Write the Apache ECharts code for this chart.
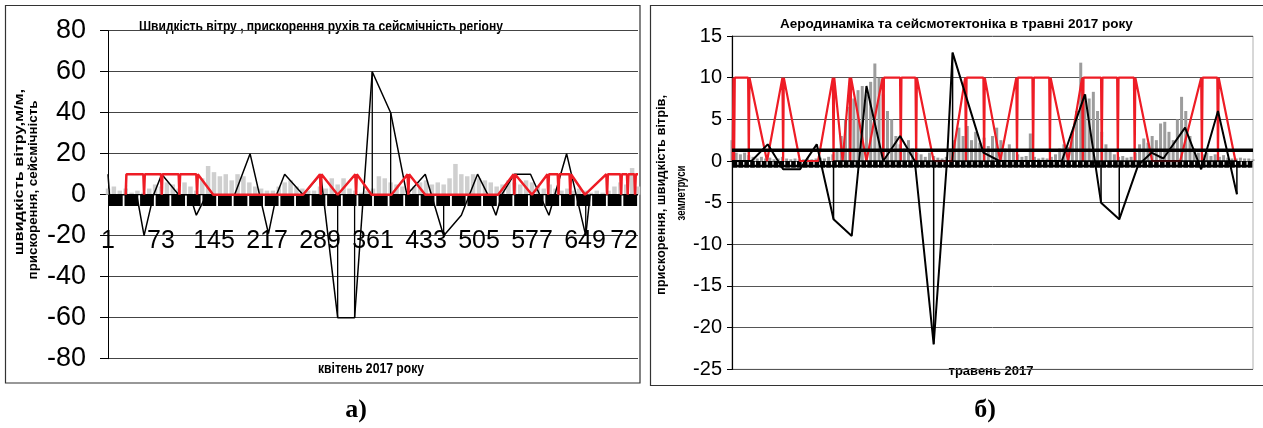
<!DOCTYPE html>
<html><head><meta charset="utf-8">
<script src="https://cdn.jsdelivr.net/npm/echarts@6/dist/echarts.min.js"></script>
<style>html,body{margin:0;padding:0;background:#fff}#c{width:1263px;height:428px}</style>
</head><body><div id="c"></div>
<script>
// ===== a) April 2017 (x = hour of month) =====
const aprTickLabels = ['1','73','145','217','289','361','433','505','577','649','72'];
// wind speed, one value every 8 hours
const aprWind = [3,4,2,3,1,2,1,3,5,4,6,5,3,6,4,2,8,14,11,9,10,7,10,9,6,4,3,2,2,4,
  6,7,4,3,2,2,4,3,8,5,8,3,2,1,2,3,9,8,6,5,4,3,4,6,7,5,6,5,8,15,
  10,9,10,8,7,6,4,5,7,6,5,7,6,4,3,5,3,2,3,2,3,2,1,2,1,2,4,6,5,13,4];
// seismicity (0 / 10)
const aprSeismic = [[24,0],[25,10],[48,10],[49,0],[50,10],[72,10],[73,0],[74,10],[96,10],[97,0],[98,10],
  [120,10],[121,0],[122,10],[123,10],[143,0],[265,0],[288,10],[289,0],[290,10],[312,0],[336,10],[337,0],[338,10],
  [358,0],[385,0],[407,10],[408,0],[409,10],[431,0],[530,0],[551,10],[552,0],[553,10],[576,0],[597,10],[598,0],[599,10],
  [611,10],[612,0],[613,10],[627,10],[628,0],[629,10],[630,10],[648,0],[677,10],[678,0],[679,10],[696,10],[697,0],[698,10],
  [705,10],[706,0],[707,10],[715,10],[716,0],[717,10],[720,10]];
// acceleration of movements
const aprAccel = [[0,10],[2,0],[39,0],[49,-20],[62,0],[73,10],[96,0],[111,0],[120,-10],[134,0],[172,0],[193,20],
  [218,-19],[229,0],[240,10],[265,0],[289,10],[312,-60],[335,-60],[359,60],[384,40],[406,0],[431,10],[456,-20],
  [480,-10],[502,10],[516,0],[527,-10],[535,0],[552,10],[574,10],[599,-10],[623,20],[649,-20],[655,0],[720,0]];
const aprAccelSpikes = [[25,5],[312,-60],[335,-60],[359,60],[384,40],[456,-20],[649,-20]];
const aprBand = [-5.5,-5.5,-5.5,-5.5,-5.5,-5.5,-5.5,-5.5,-5.5,-5.5,-5.5,-5.5,-5.5,-5.5,-5.5,-5.5,-5.5,
  -5.5,-5.5,-5.5,-5.5,-5.5,-5.5,-5.5,-5.5,-5.5,-5.5,-5.5,-5.5,-5.5,-5.5,-5.5,-5.5,-5.5];

// ===== б) May 2017 =====
// wind speed, one value every 6 hours
const mayWind = [2.5,1,0.8,1,0.7,0.5,0.3,0.5,0.3,0.4,0.2,0.3,0.5,0.3,0.2,0.3,0.2,0.2,0.3,0.2,
  0.3,0.4,0.3,0.5,0.8,1.5,3,5,6.5,7.5,8.5,9,8,9.5,11.7,10,8,6,5,3,
  2,1.5,2.5,1.5,1,0.8,0.5,1,0.6,0.4,0.3,0.5,1.5,2.5,4,3,4.2,2.5,3.5,2.2,
  2.8,1.8,3,4,2.5,1.5,2,1.2,0.8,0.5,0.6,3.3,0.5,0.3,0.4,0.3,0.5,0.8,1.5,2,
  1.7,3.5,6,11.8,8,7.5,8.3,6,3.5,2,1.2,0.8,0.5,0.6,0.4,0.5,1,2,2.7,2.2,
  3,2.5,4.5,4.7,3.5,2.5,5,7.7,6,3,1.5,1,0.8,1,0.6,0.8,0.5,0.7,0.4,0.3,
  0.3,0.4,0.3,0.3,0.2];
const maySeismic = [[1,0],[2,10],[3,0],[4,10],[23,10],[24,0],[25,10],[50,0],[72,10],[73,0],[74,10],[97,0],[123,0],
  [144,10],[145,0],[146,10],[158,0],[168,10],[169,0],[170,10],[192,0],[215,10],[216,0],[217,10],[240,10],[241,0],[242,10],
  [262,10],[263,0],[264,10],[288,0],[314,0],[333,10],[334,0],[335,10],[359,10],[360,0],[361,10],[383,0],
  [406,10],[407,0],[408,10],[429,10],[430,0],[431,10],[453,10],[454,0],[455,10],[480,0],[500,10],[501,0],[502,10],
  [527,10],[528,0],[529,10],[550,10],[551,0],[552,10],[574,10],[575,0],[576,10],[600,0],[640,0],
  [670,10],[671,0],[672,10],[693,10],[694,0],[695,10],[719,0]];
const mayAccel = [[0,0],[28,0],[51,2],[73,-1],[97,-1],[121,2],[145,-7],[171,-9],[192,9],[216,0],[240,3],[261,0],
  [288,-22],[307,0],[315,13],[359,1],[382,0],[471,0],[504,8],[527,-5],[553,-7],[580,-0.5],[599,1],[616,0.3],
  [647,4],[670,-1],[694,6],[721,-4]];
const mayAccelSpikes = [[145,-7],[288,-22],[315,13],[527,-5],[553,-7],[721,-4]];
const mayMean = [[0,1.3],[744,1.3]];
const mayBand = new Array(89).fill(-0.8);

function spikes(arr){const out=[];arr.forEach(p=>{out.push([p[0],0],[p[0],p[1]],[p[0],0]);});return out;}

const SANS = "'Liberation Sans',Arial,sans-serif";
const SERIF = "'Liberation Serif','DejaVu Serif',serif";
const RED = '#ee1c25';

const chart = echarts.init(document.getElementById('c'), null, {renderer:'canvas'});
chart.setOption({
  animation:false,
  backgroundColor:'#fff',
  grid:[
    {left:108, top:30.7, width:530, height:328},
    {left:732, top:36, width:521, height:333.3, show:true, borderColor:'#b0b0b0', borderWidth:1, backgroundColor:'transparent'}
  ],
  xAxis:[
    {type:'value', gridIndex:0, min:0, max:720, interval:72, position:'bottom', offset:-164,
      axisLine:{show:false, onZero:false}, axisTick:{show:false}, splitLine:{show:false},
      axisLabel:{fontSize:25, fontFamily:SANS, color:'#000', margin:34, alignMaxLabel:'right', hideOverlap:false,
        formatter:v=>aprTickLabels[Math.round(v/72)]}},
    {type:'category', gridIndex:0, data:aprBand.map((_,i)=>i), boundaryGap:true, show:false},
    {type:'value', gridIndex:1, min:0, max:744, show:false},
    {type:'category', gridIndex:1, data:mayBand.map((_,i)=>i), boundaryGap:true, show:false}
  ],
  yAxis:[
    {type:'value', gridIndex:0, min:-80, max:80, interval:20,
      axisLine:{show:true, lineStyle:{color:'#000', width:1}},
      axisTick:{show:true, length:8, lineStyle:{color:'#000'}},
      splitLine:{lineStyle:{color:'#444', width:1}},
      axisLabel:{fontSize:27, fontFamily:SANS, color:'#000', margin:22}},
    {type:'value', gridIndex:1, min:-25, max:15, interval:5,
      axisLine:{show:true, lineStyle:{color:'#000', width:1.2}},
      axisTick:{show:true, length:5, lineStyle:{color:'#000'}},
      splitLine:{lineStyle:{color:'#555', width:1}},
      axisLabel:{fontSize:20, fontFamily:SANS, color:'#000', margin:10}}
  ],
  series:[
    // ---- a) ----
    {type:'bar', xAxisIndex:0, yAxisIndex:0, barWidth:4.5, itemStyle:{color:'#cfcfcf'},
      data:aprWind.map((v,i)=>[i*8,v]), z:1},
    {type:'bar', xAxisIndex:1, yAxisIndex:0, barWidth:13.8, itemStyle:{color:'#000'}, data:aprBand, z:2},
    {type:'line', xAxisIndex:0, yAxisIndex:0, data:aprAccel, symbol:'none', lineStyle:{color:'#000', width:1.5}, z:3},
    {type:'line', xAxisIndex:0, yAxisIndex:0, data:spikes(aprAccelSpikes), symbol:'none', lineStyle:{color:'#000', width:1.3}, z:3},
    {type:'line', xAxisIndex:0, yAxisIndex:0, data:aprSeismic, symbol:'none', lineStyle:{color:RED, width:2.5}, z:4},
    // ---- б) ----
    {type:'bar', xAxisIndex:2, yAxisIndex:1, barWidth:3, itemStyle:{color:'#9c9c9c'},
      data:mayWind.map((v,i)=>[i*6,v]), z:1},
    {type:'bar', xAxisIndex:3, yAxisIndex:1, barWidth:4.6, itemStyle:{color:'#000'}, data:mayBand, z:2},
    {type:'line', xAxisIndex:2, yAxisIndex:1, data:[[1,-0.6],[740,-0.6]], symbol:'none', lineStyle:{color:'#000', width:2.5}, z:2},
    {type:'line', xAxisIndex:2, yAxisIndex:1, data:maySeismic, symbol:'none', lineStyle:{color:RED, width:2.2}, z:3},
    {type:'line', xAxisIndex:2, yAxisIndex:1, data:mayMean, symbol:'none', lineStyle:{color:'#000', width:3.5}, z:4},
    {type:'line', xAxisIndex:2, yAxisIndex:1, data:mayAccel, symbol:'none', lineStyle:{color:'#000', width:2}, z:5},
    {type:'line', xAxisIndex:2, yAxisIndex:1, data:spikes(mayAccelSpikes), symbol:'none', lineStyle:{color:'#000', width:1.5}, z:5}
  ],
  graphic:[
    {type:'rect', shape:{x:5.5, y:5.5, width:634.5, height:377.5}, style:{fill:'none', stroke:'#333', lineWidth:1.2}, silent:true},
    {type:'rect', shape:{x:650.5, y:5.5, width:630, height:380}, style:{fill:'none', stroke:'#333', lineWidth:1.2}, silent:true},
    {type:'text', x:139, y:27, scaleX:0.86, style:{text:'Швидкість вітру , прискорення рухів та сейсмічність регіону', fontSize:14, fontWeight:'bold', fontFamily:SANS, fill:'#000', align:'left', verticalAlign:'middle'}},
    {type:'text', x:780, y:24, style:{text:'Аеродинаміка та сейсмотектоніка в травні 2017 року', fontSize:13.5, fontWeight:'bold', fontFamily:SANS, fill:'#000', align:'left', verticalAlign:'middle'}},
    {type:'text', x:371, y:369, scaleX:0.87, style:{text:'квітень 2017 року', fontSize:14, fontWeight:'bold', fontFamily:SANS, fill:'#000', align:'center', verticalAlign:'middle'}},
    {type:'text', x:991, y:371, style:{text:'травень 2017', fontSize:13, fontWeight:'bold', fontFamily:SANS, fill:'#000', align:'center', verticalAlign:'middle'}},
    {type:'text', x:20, y:172, rotation:Math.PI/2, scaleX:1.36, style:{text:'швидкість вітру,м/м,', fontSize:12, fontWeight:'bold', fontFamily:SANS, fill:'#000', align:'center', verticalAlign:'middle'}},
    {type:'text', x:34, y:190, rotation:Math.PI/2, scaleX:1.11, style:{text:'прискорення, сейсмічність', fontSize:12, fontWeight:'bold', fontFamily:SANS, fill:'#000', align:'center', verticalAlign:'middle'}},
    {type:'text', x:662, y:195, rotation:Math.PI/2, scaleX:1.07, style:{text:'прискорення, швидкість вітрів,', fontSize:12, fontWeight:'bold', fontFamily:SANS, fill:'#000', align:'center', verticalAlign:'middle'}},
    {type:'text', x:682, y:193, rotation:Math.PI/2, scaleX:0.8, style:{text:'землетруси', fontSize:12, fontWeight:'bold', fontFamily:SANS, fill:'#000', align:'center', verticalAlign:'middle'}},
    {type:'text', x:356, y:410, style:{text:'а)', fontSize:26, fontWeight:'bold', fontFamily:SERIF, fill:'#000', align:'center', verticalAlign:'middle'}},
    {type:'text', x:985, y:410, style:{text:'б)', fontSize:26, fontWeight:'bold', fontFamily:SERIF, fill:'#000', align:'center', verticalAlign:'middle'}}
  ]
});
</script></body></html>
